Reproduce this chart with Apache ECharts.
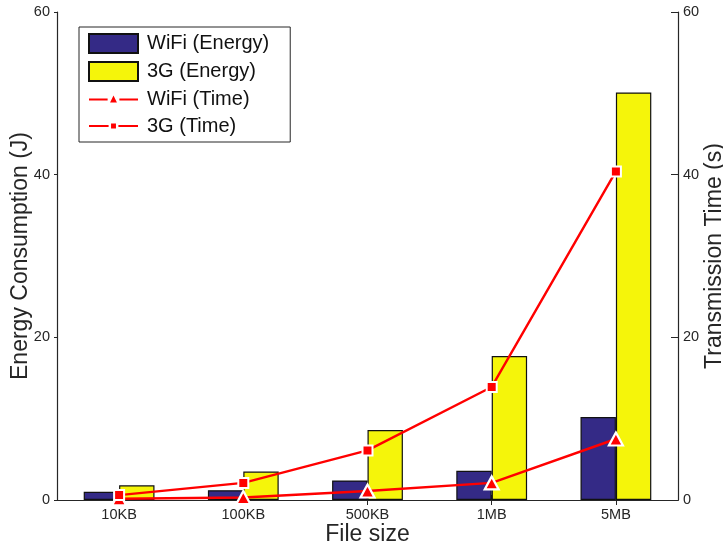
<!DOCTYPE html>
<html>
<head>
<meta charset="utf-8">
<script src="https://cdn.jsdelivr.net/npm/echarts@6/dist/echarts.min.js"></script>
<style>
  html, body { margin: 0; padding: 0; background: #fff; }
  #chart { width: 723px; height: 544px; }
</style>
</head>
<body>
<div id="chart"></div>
<script>
// File sizes on the x axis
const fileSizes = ['10KB', '100KB', '500KB', '1MB', '5MB'];
// Energy consumption (J), left axis
const wifiEnergy = [1.0, 1.2, 2.4, 3.6, 10.2];
const g3Energy = [1.8, 3.5, 8.6, 17.7, 50.1];
// Transmission time (s), right axis
const wifiTime = [0.15, 0.3, 1.1, 2.1, 7.5];
const g3Time = [0.6, 2.1, 6.1, 13.9, 40.4];
// Tick values shared by both y axes
const yTicks = [0, 20, 40, 60];

const FONT = 'Liberation Sans, Arial, Helvetica, sans-serif';
const AXIS_COLOR = '#262626';
const RED = '#ff0000';
const NAME_SIZE = 23;

// Legend icons for the line series: a red line with a small marker in the middle
const triIcon = 'path://M0,6H19V8H0Z M31,6H50V8H31Z M21.5,10L25,3L28.5,10Z';
const sqIcon = 'path://M0,6H20V8H0Z M30,6H50V8H30Z M22.5,4.5H27.5V9.5H22.5Z';

const chart = echarts.init(document.getElementById('chart'), null, { renderer: 'canvas' });

const yAxisCommon = {
  type: 'value',
  min: yTicks[0],
  max: yTicks[yTicks.length - 1],
  interval: yTicks[1] - yTicks[0],
  splitLine: { show: false },
  axisLine: { show: true, lineStyle: { color: AXIS_COLOR, width: 1.2 } },
  axisLabel: { color: AXIS_COLOR, fontFamily: FONT, fontSize: 14.5 },
  nameLocation: 'middle',
  nameMoveOverlap: false,
  nameTextStyle: { color: AXIS_COLOR, fontFamily: FONT, fontSize: NAME_SIZE }
};

chart.setOption({
  animation: false,
  backgroundColor: '#ffffff',
  textStyle: { fontFamily: FONT },
  grid: { left: 57, right: 45, top: 12, bottom: 44, containLabel: false, outerBoundsMode: 'none' },
  legend: {
    orient: 'vertical',
    left: 79,
    top: 27,
    padding: [6, 21, 6, 9],
    itemWidth: 49,
    itemHeight: 19,
    itemGap: 7,
    borderColor: AXIS_COLOR,
    borderWidth: 1,
    backgroundColor: '#ffffff',
    textStyle: { color: '#111', fontFamily: FONT, fontSize: 20, padding: [0, 0, 0, 4] },
    data: [
      { name: 'WiFi (Energy)', icon: 'rect' },
      { name: '3G (Energy)', icon: 'rect' },
      { name: 'WiFi (Time)', icon: triIcon, itemStyle: { color: RED, borderWidth: 0 } },
      { name: '3G (Time)', icon: sqIcon, itemStyle: { color: RED, borderWidth: 0 } }
    ]
  },
  xAxis: [
    {
      type: 'category',
      data: fileSizes,
      position: 'bottom',
      axisLine: { lineStyle: { color: AXIS_COLOR, width: 1.2 } },
      axisTick: { show: true, inside: true, alignWithLabel: true, length: 5, lineStyle: { color: AXIS_COLOR } },
      axisLabel: { color: AXIS_COLOR, fontFamily: FONT, fontSize: 14.5, margin: 7 },
      name: 'File size',
      nameLocation: 'middle',
      nameMoveOverlap: false,
      nameGap: 23,
      nameTextStyle: { color: AXIS_COLOR, fontFamily: FONT, fontSize: NAME_SIZE }
    },
    {
      type: 'category',
      data: fileSizes,
      position: 'top',
      axisLine: { lineStyle: { color: AXIS_COLOR, width: 1.2 } },
      axisTick: { show: true, inside: true, alignWithLabel: true, length: 5, lineStyle: { color: AXIS_COLOR } },
      axisLabel: { show: false }
    }
  ],
  yAxis: [
    Object.assign({}, yAxisCommon, {
      position: 'left',
      name: 'Energy Consumption (J)',
      nameGap: 25,
      axisTick: { show: true, inside: false, length: 3, lineStyle: { color: AXIS_COLOR } },
      axisLabel: Object.assign({}, yAxisCommon.axisLabel, { margin: 7 })
    }),
    Object.assign({}, yAxisCommon, {
      position: 'right',
      name: 'Transmission Time (s)',
      nameGap: 25,
      axisTick: { show: true, inside: true, length: 7, lineStyle: { color: AXIS_COLOR } },
      axisLabel: Object.assign({}, yAxisCommon.axisLabel, { margin: 5 })
    })
  ],
  series: [
    {
      name: 'WiFi (Energy)',
      type: 'bar',
      xAxisIndex: 0,
      yAxisIndex: 0,
      data: wifiEnergy,
      barGap: '0%',
      barCategoryGap: '43%',
      itemStyle: { color: '#342a86', borderColor: '#111', borderWidth: 1.2 },
      z: 2
    },
    {
      name: '3G (Energy)',
      type: 'bar',
      xAxisIndex: 0,
      yAxisIndex: 0,
      data: g3Energy,
      barGap: '0%',
      barCategoryGap: '43%',
      itemStyle: { color: '#f5f50a', borderColor: '#111', borderWidth: 1.2 },
      z: 2
    },
    {
      name: 'WiFi (Time)',
      type: 'line',
      xAxisIndex: 0,
      yAxisIndex: 1,
      data: wifiTime,
      symbol: 'triangle',
      symbolSize: [14, 13],
      lineStyle: { color: RED, width: 2.4 },
      itemStyle: { color: RED, borderColor: '#ffffff', borderWidth: 2.2 },
      z: 5
    },
    {
      name: '3G (Time)',
      type: 'line',
      xAxisIndex: 0,
      yAxisIndex: 1,
      data: g3Time,
      symbol: 'rect',
      symbolSize: 10,
      lineStyle: { color: RED, width: 2.4 },
      itemStyle: { color: RED, borderColor: '#ffffff', borderWidth: 2 },
      z: 6
    }
  ]
});
</script>
</body>
</html>
